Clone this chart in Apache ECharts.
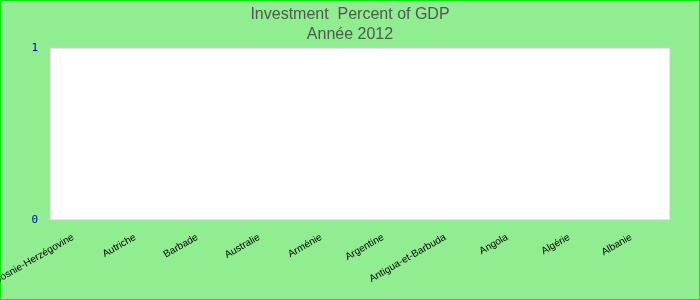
<!DOCTYPE html>
<html><head><meta charset="utf-8">
<script src="https://cdn.jsdelivr.net/npm/echarts@6/dist/echarts.min.js"></script>
<style>html,body{margin:0;padding:0;}#c{width:700px;height:300px;}</style>
</head><body><div id="c"></div>
<script>
const categories = ["Bosnie-Herzégovine","Autriche","Barbade","Australie","Arménie","Argentine","Antigua-et-Barbuda","Angola","Algérie","Albanie"];
const values = [0,0,0,0,0,0,0,0,0,0];
const yTicks = [0,1];
const chart = echarts.init(document.getElementById('c'));
chart.setOption({
  backgroundColor: '#90EE90',
  animation: false,
  title: {
    text: 'Investment  Percent of GDP\nAnnée 2012',
    left: 'center', top: 0,
    textStyle: {fontFamily: 'Liberation Sans', fontSize: 16, fontWeight: 'normal', color: '#555555', lineHeight: 20}
  },
  graphic: [{type:'rect', shape:{x:0.5,y:0.5,width:699,height:299}, style:{fill:null, stroke:'#00ee00', lineWidth:1}}],
  grid: {left: 50, right: 30, top: 48, bottom: 80, outerBoundsMode: 'none', containLabel: false, show: true, backgroundColor: '#ffffff', borderColor: '#cccccc', borderWidth: 1},
  xAxis: {
    type: 'category', data: categories,
    axisLine: {show: false}, axisTick: {show: false},
    axisLabel: {rotate: 30, interval: 0, fontFamily: 'Liberation Sans', fontSize: 10, color: '#000000', margin: 12, padding: [0, 9, 0, 0]}
  },
  yAxis: {
    type: 'value', min: yTicks[0], max: yTicks[yTicks.length-1], interval: 1,
    splitLine: {show: false}, axisLine: {show: false}, axisTick: {show: false},
    axisLabel: {fontFamily: 'DejaVu Sans Mono', fontSize: 11, color: '#0000aa', margin: 12}
  },
  series: [{type: 'bar', data: values, itemStyle: {color: '#4472c4'}}]
});
</script></body></html>
